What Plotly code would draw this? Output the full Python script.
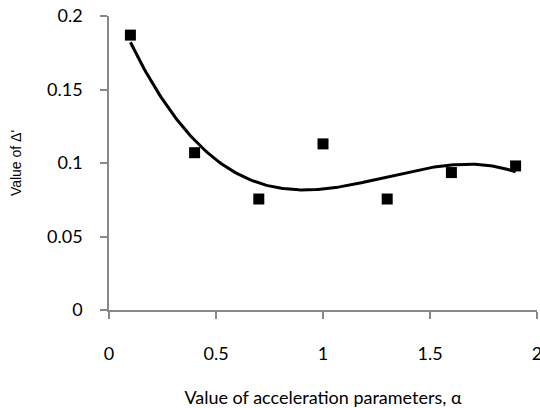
import numpy as np
import plotly.graph_objects as go

# Data
alpha = [0.1, 0.4, 0.7, 1.0, 1.3, 1.6, 1.9]
delta = [0.187, 0.107, 0.0755, 0.113, 0.0755, 0.0935, 0.098]
x_ticks = [0, 0.5, 1, 1.5, 2]
y_ticks = [0, 0.05, 0.1, 0.15, 0.2]
trend_order = 3  # polynomial trendline fitted to the data

coef = np.polyfit(alpha, delta, trend_order)
xs = np.linspace(min(alpha), max(alpha), 200)

fig = go.Figure()
fig.add_trace(go.Scatter(x=xs, y=np.polyval(coef, xs), mode="lines",
                         line=dict(color="black", width=3), showlegend=False,
                         hoverinfo="skip"))
fig.add_trace(go.Scatter(x=alpha, y=delta, mode="markers",
                         marker=dict(symbol="square", size=11, color="black"),
                         showlegend=False))

axis_common = dict(showline=True, linecolor="#888888", linewidth=1.5, ticks="outside",
                   tickcolor="#888888", ticklen=7, tickwidth=1.5, showgrid=False,
                   zeroline=False, automargin=False,
                   tickfont=dict(family="Lato", size=18, color="black"))
fig.update_xaxes(range=[0, 2], tickvals=x_ticks, ticktext=[f"{v:g}" for v in x_ticks],
                 ticklabelstandoff=20, ticklabeloverflow="allow", **axis_common,
                 title=dict(text="Value of acceleration parameters, α",
                            font=dict(family="Lato", size=18, color="black"), standoff=28))
fig.update_yaxes(range=[0, 0.2], tickvals=y_ticks, ticktext=[f"{v:g}" for v in y_ticks],
                 ticklabelstandoff=14, **axis_common,
                 title=dict(text="Value of Δ'", font=dict(family="Liberation Sans", size=14,
                                                        color="black"), standoff=22))
fig.update_layout(width=540, height=408, margin=dict(l=109, r=3, t=16, b=98),
                  plot_bgcolor="white", paper_bgcolor="white")
fig.write_html("out.html")
